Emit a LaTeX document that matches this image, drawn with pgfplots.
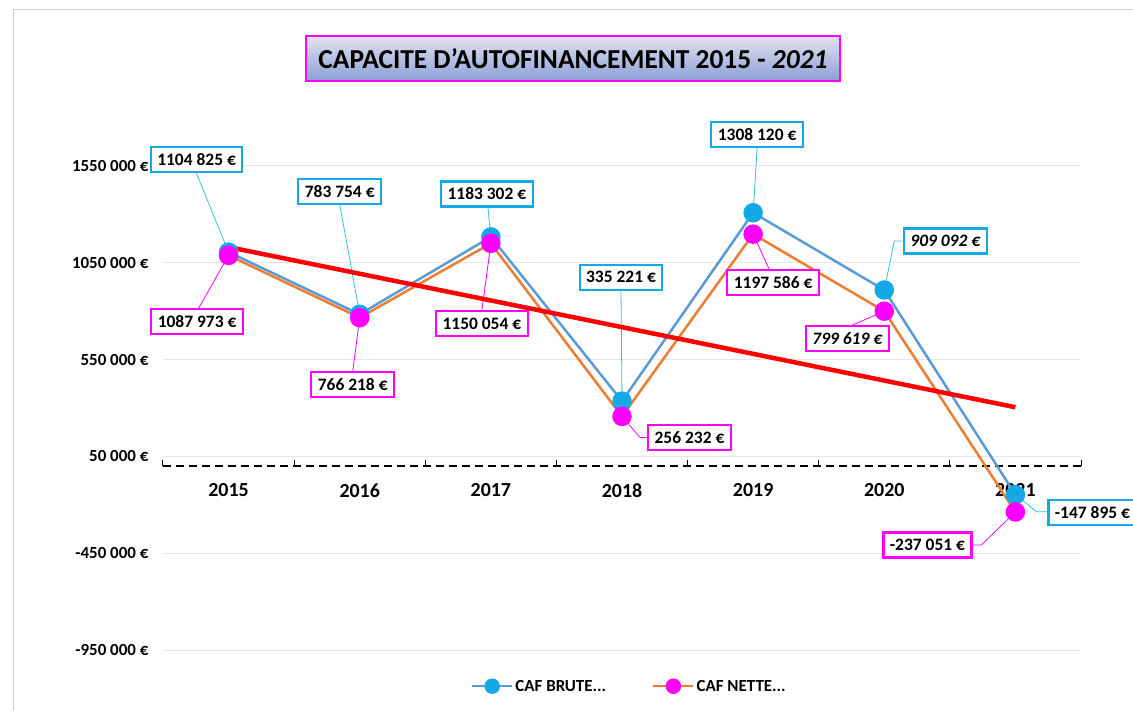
\documentclass[border=0pt]{standalone}
\usepackage{fontspec}
\setmainfont{Carlito}
\usepackage{pgfplots}
\pgfplotsset{compat=1.18}
\definecolor{brute}{HTML}{5B9BD5}
\definecolor{brutemk}{HTML}{14A9E6}
\definecolor{nette}{HTML}{ED7D31}
\definecolor{nettemk}{HTML}{FF00FF}
\definecolor{leadb}{HTML}{33C3D6}
\definecolor{titletop}{HTML}{E2E3EC}
\definecolor{titlebot}{HTML}{8C9ED6}
\definecolor{gridc}{HTML}{E6E6E6}

\tikzset{
  lblb/.style={draw=brutemk, line width=2.2bp, fill=white, inner xsep=6.5bp,
    inner ysep=0bp, minimum height=25bp, font=\fontsize{17.5}{20}\selectfont\bfseries},
  lbln/.style={lblb, draw=nettemk},
  ldb/.style={leadb, line width=0.8bp},
  ldn/.style={nettemk, line width=0.8bp},
}

\begin{document}
\begin{tikzpicture}
\useasboundingbox (-163bp,-61bp) rectangle (970bp,650bp);
\draw[gray!35, line width=1bp] (-149bp,-61bp) -- (-149bp,640bp) -- (970bp,640bp);

\begin{axis}[
  at={(0,0)}, anchor=south west,
  scale only axis,
  width=918bp, height=532.5bp,
  xmin=2014.5, xmax=2021.5,
  ymin=-950000, ymax=1800000,
  enlargelimits=false,
  scaled y ticks=false,
  axis x line=middle,
  axis y line=left,
  x axis line style={-, black, line width=1.3bp, dash pattern=on 8bp off 5bp},
  y axis line style={draw=none},
  xtick={2015,2016,2017,2018,2019,2020,2021},
  xticklabels={2015,2016,2017,2018,2019,2020,2021},
  major x tick style={draw=none},
  minor xtick={2014.5,2015.5,2016.5,2017.5,2018.5,2019.5,2020.5,2021.5},
  minor x tick style={black, line width=1bp},
  minor tick length=6bp,
  xtick align=inside,
  xticklabel style={font=\fontsize{20}{24}\selectfont\bfseries, yshift=-14bp},
  ytick={-950000,-450000,50000,550000,1050000,1550000},
  yticklabels={{-950 000 €},{-450 000 €},{50 000 €},{550 000 €},{1050 000 €},{1550 000 €}},
  ytick style={draw=none},
  yticklabel style={font=\fontsize{17}{20}\selectfont\bfseries, xshift=-9bp},
  ymajorgrids,
  grid style={gridc, line width=1bp},
  clip=false,
  legend style={at={(axis description cs:0.508,-0.068)}, anchor=center,
    draw=none, fill=none, legend columns=2,
    font=\fontsize{17}{20}\selectfont\bfseries,
    /tikz/every even column/.append style={column sep=44bp}},
  legend image code/.code={\draw[mark repeat=2,mark phase=2,#1,mark size=6.5bp]
    plot coordinates {(0bp,0bp) (20bp,0bp) (40bp,0bp)};},
]

% leader lines
\draw[ldb] ([shift={(-33bp,81bp)}]axis cs:2015,1104825) -- (axis cs:2015,1104825);
\draw[ldb] ([shift={(-20bp,110bp)}]axis cs:2016,783754) -- (axis cs:2016,783754);
\draw[ldb] ([shift={(-3bp,30bp)}]axis cs:2017,1183302) -- (axis cs:2017,1183302);
\draw[ldb] ([shift={(-1bp,111bp)}]axis cs:2018,335221) -- (axis cs:2018,335221);
\draw[ldb] ([shift={(4bp,65bp)}]axis cs:2019,1308120) -- (axis cs:2019,1308120);
\draw[ldb] ([shift={(18bp,49bp)}]axis cs:2020,909092) -- ([shift={(10bp,49bp)}]axis cs:2020,909092) -- (axis cs:2020,909092);
\draw[ldb] ([shift={(32bp,-17bp)}]axis cs:2021,-147895) -- ([shift={(21bp,-17bp)}]axis cs:2021,-147895) -- (axis cs:2021,-147895);

\draw[ldn] ([shift={(-30bp,-53bp)}]axis cs:2015,1087973) -- (axis cs:2015,1087973);
\draw[ldn] ([shift={(-7bp,-54bp)}]axis cs:2016,766218) -- (axis cs:2016,766218);
\draw[ldn] ([shift={(-9bp,-67bp)}]axis cs:2017,1150054) -- (axis cs:2017,1150054);
\draw[ldn] ([shift={(25bp,-21bp)}]axis cs:2018,256232) -- ([shift={(18bp,-21bp)}]axis cs:2018,256232) -- (axis cs:2018,256232);
\draw[ldn] ([shift={(16bp,-35bp)}]axis cs:2019,1197586) -- (axis cs:2019,1197586);
\draw[ldn] ([shift={(-32bp,-14bp)}]axis cs:2020,799619) -- (axis cs:2020,799619);
\draw[ldn] ([shift={(-43bp,-33bp)}]axis cs:2021,-237051) -- ([shift={(-34bp,-33bp)}]axis cs:2021,-237051) -- (axis cs:2021,-237051);

\addplot[brute, line width=2.5bp, mark=*, mark size=8.5bp,
  mark options={fill=brutemk, draw=brutemk, solid}] coordinates {
  (2015,1104825) (2016,783754) (2017,1183302) (2018,335221)
  (2019,1308120) (2020,909092) (2021,-147895)
};
\addlegendentry{CAF BRUTE...}
\addplot[nette, line width=2.5bp, mark=*, mark size=8.5bp,
  mark options={fill=nettemk, draw=nettemk, solid}] coordinates {
  (2015,1087973) (2016,766218) (2017,1150054) (2018,256232)
  (2019,1197586) (2020,799619) (2021,-237051)
};
\addlegendentry{CAF NETTE...}
% linear trend of CAF nette
\addplot[red, line width=4.5bp, forget plot] coordinates {
  (2015,1130882) (2021,303584)
};

% data labels
\node[lblb] at ([shift={(-32bp,93bp)}]axis cs:2015,1104825) {1104 825 €};
\node[lblb] at ([shift={(-20bp,123bp)}]axis cs:2016,783754) {783 754 €};
\node[lblb] at ([shift={(-4bp,43bp)}]axis cs:2017,1183302) {1183 302 €};
\node[lblb] at ([shift={(-1bp,124bp)}]axis cs:2018,335221) {335 221 €};
\node[lblb] at ([shift={(4bp,78bp)}]axis cs:2019,1308120) {1308 120 €};
\node[lblb, font=\fontsize{17.5}{20}\selectfont\bfseries\itshape] at ([shift={(61bp,49bp)}]axis cs:2020,909092) {909 092 €};
\node[lblb] at ([shift={(77bp,-18bp)}]axis cs:2021,-147895) {-147 895 €};

\node[lbln] at ([shift={(-31.5bp,-66bp)}]axis cs:2015,1087973) {1087 973 €};
\node[lbln] at ([shift={(-7bp,-67bp)}]axis cs:2016,766218) {766 218 €};
\node[lbln] at ([shift={(-9bp,-80bp)}]axis cs:2017,1150054) {1150 054 €};
\node[lbln] at ([shift={(67.5bp,-21bp)}]axis cs:2018,256232) {256 232 €};
\node[lbln] at ([shift={(20bp,-48bp)}]axis cs:2019,1197586) {1197 586 €};
\node[lbln, font=\fontsize{17.5}{20}\selectfont\bfseries\itshape] at ([shift={(-37bp,-27bp)}]axis cs:2020,799619) {799 619 €};
\node[lbln] at ([shift={(-88bp,-33bp)}]axis cs:2021,-237051) {-237 051 €};
\end{axis}

\node[draw=nettemk, line width=1.2bp, top color=titletop, bottom color=titlebot,
  minimum width=534bp, minimum height=45bp,
  font=\fontsize{27.5}{32}\selectfont\bfseries]
  at (410bp,591.5bp) {CAPACITE D'AUTOFINANCEMENT 2015 - \textit{2021}};
\end{tikzpicture}
\end{document}
